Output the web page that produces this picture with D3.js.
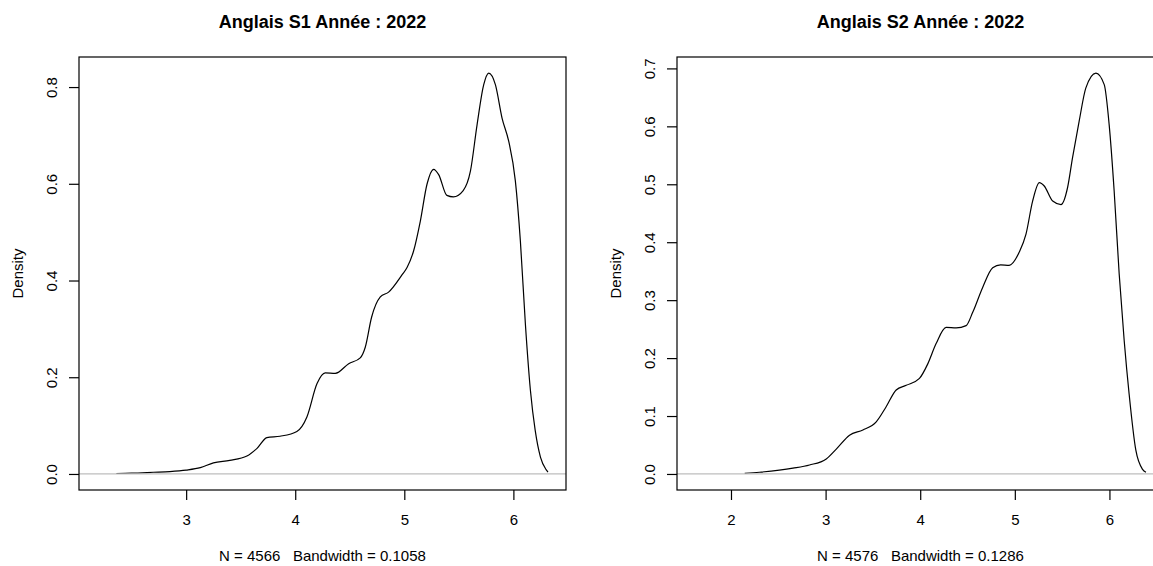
<!DOCTYPE html>
<html>
<head>
<meta charset="utf-8">
<script src="https://cdn.jsdelivr.net/npm/d3@7"></script>
<style>
  html, body { margin: 0; padding: 0; background: #fff; }
  svg { display: block; }
  text { font-family: "Liberation Sans", Arial, sans-serif; fill: #000; }
</style>
</head>
<body>
<svg id="chart" width="1153" height="566"></svg>
<script>
// ---- Data ----
const titleS1 = "Anglais S1 Année : 2022";
const titleS2 = "Anglais S2 Année : 2022";
const subS1 = "N = 4566   Bandwidth = 0.1058";
const subS2 = "N = 4576   Bandwidth = 0.1286";

const xS1 = [2.183, 2.30, 2.36, 2.50, 2.70, 2.85, 3.00, 3.13, 3.25, 3.40, 3.557, 3.65, 3.74, 3.86, 4.015, 4.107, 4.20, 4.275, 4.367, 4.49, 4.596, 4.642, 4.70, 4.78, 4.856, 4.98, 5.025, 5.085, 5.147, 5.208, 5.269, 5.315, 5.39, 5.45, 5.54, 5.606, 5.667, 5.728, 5.774, 5.835, 5.896, 5.957, 6.018, 6.064, 6.11, 6.156, 6.20, 6.248, 6.30, 6.317];
const yS1 = [0.0000, 0.0000, 0.0010, 0.0016, 0.0035, 0.005, 0.008, 0.013, 0.023, 0.028, 0.037, 0.053, 0.075, 0.078, 0.088, 0.118, 0.187, 0.209, 0.208, 0.228, 0.240, 0.262, 0.324, 0.366, 0.376, 0.412, 0.427, 0.461, 0.523, 0.599, 0.630, 0.619, 0.576, 0.573, 0.586, 0.626, 0.722, 0.805, 0.829, 0.805, 0.736, 0.688, 0.606, 0.482, 0.310, 0.173, 0.090, 0.035, 0.009, 0.004];

const xS2 = [1.62, 1.9, 2.145, 2.30, 2.655, 2.83, 3.007, 3.113, 3.253, 3.394, 3.535, 3.64, 3.746, 3.852, 3.992, 4.08, 4.168, 4.274, 4.38, 4.485, 4.555, 4.66, 4.766, 4.85, 4.94, 5.047, 5.118, 5.188, 5.259, 5.311, 5.40, 5.488, 5.557, 5.61, 5.68, 5.75, 5.857, 5.945, 5.997, 6.05, 6.103, 6.156, 6.208, 6.279, 6.35, 6.386];
const yS2 = [0.0000, 0.0000, 0.0010, 0.003, 0.010, 0.0155, 0.026, 0.043, 0.067, 0.076, 0.090, 0.116, 0.145, 0.153, 0.165, 0.190, 0.225, 0.253, 0.252, 0.256, 0.279, 0.322, 0.356, 0.361, 0.360, 0.383, 0.414, 0.471, 0.503, 0.497, 0.471, 0.465, 0.494, 0.546, 0.609, 0.666, 0.692, 0.672, 0.603, 0.488, 0.345, 0.230, 0.138, 0.041, 0.008, 0.003];

const xTicksS1 = [3, 4, 5, 6];
const yTicksS1 = [0, 0.2, 0.4, 0.6, 0.8];
const xTicksS2 = [2, 3, 4, 5, 6];
const yTicksS2 = [0, 0.1, 0.2, 0.3, 0.4, 0.5, 0.6, 0.7];

// ---- Drawing ----
const svg = d3.select("#chart");
const boxW = 487, boxH = 433, boxTop = 57;

function rExtend(ext) {
  const r = ext[1] - ext[0];
  return [ext[0] - 0.04 * r, ext[1] + 0.04 * r];
}

function panel(left, xs, ys, xTicks, yTicks, title, sub) {
  const data = xs.map((x, i) => ({ x, y: ys[i] }));
  const x = d3.scaleLinear().domain(rExtend(d3.extent(xs))).range([left, left + boxW]);
  const y = d3.scaleLinear().domain(rExtend([0, d3.max(ys)])).range([boxTop + boxH, boxTop]);
  const g = svg.append("g");

  // density curve (points at exactly zero are hidden under the zero line anyway)
  const line = d3.line().x(d => x(d.x)).y(d => y(d.y)).curve(d3.curveMonotoneX);
  g.append("path").datum(data.filter(d => d.y > 0))
    .attr("d", line)
    .attr("fill", "none")
    .attr("stroke", "#000")
    .attr("stroke-width", 1.2)
    .attr("stroke-linejoin", "round");

  // zero line
  g.append("line")
    .attr("x1", left).attr("x2", left + boxW)
    .attr("y1", y(0)).attr("y2", y(0))
    .attr("stroke", "#BEBEBE").attr("stroke-width", 1.2);

  // box
  g.append("rect")
    .attr("x", left).attr("y", boxTop)
    .attr("width", boxW).attr("height", boxH)
    .attr("fill", "none").attr("stroke", "#000").attr("stroke-width", 1.2);

  // x axis
  const xa = g.append("g")
    .attr("transform", `translate(0,${boxTop + boxH})`)
    .call(d3.axisBottom(x).tickValues(xTicks).tickSize(10).tickFormat(d3.format("d")));
  xa.select(".domain").remove();
  xa.selectAll(".tick line").attr("stroke", "#000").attr("stroke-width", 1.2);
  xa.selectAll(".tick text")
    .attr("y", 35).attr("dy", null)
    .attr("font-size", 15)
    .attr("font-family", "Liberation Sans, Arial, sans-serif")
    .attr("fill", "#000");

  // y axis
  const ya = g.append("g")
    .attr("transform", `translate(${left},0)`)
    .call(d3.axisLeft(y).tickValues(yTicks).tickSize(10).tickFormat(d3.format(".1f")));
  ya.select(".domain").remove();
  ya.selectAll(".tick line").attr("stroke", "#000").attr("stroke-width", 1.2);
  ya.selectAll(".tick text")
    .attr("x", null).attr("dy", null)
    .attr("text-anchor", "middle")
    .attr("transform", "translate(-22,0) rotate(-90)")
    .attr("font-size", 15)
    .attr("font-family", "Liberation Sans, Arial, sans-serif")
    .attr("fill", "#000");

  // y label
  g.append("text")
    .attr("transform", `translate(${left - 56},${boxTop + boxH / 2}) rotate(-90)`)
    .attr("text-anchor", "middle")
    .attr("font-size", 15)
    .text("Density");

  // title
  g.append("text")
    .attr("x", left + boxW / 2).attr("y", 28)
    .attr("text-anchor", "middle")
    .attr("font-size", 18)
    .attr("font-weight", "bold")
    .text(title);

  // subtitle
  g.append("text")
    .attr("x", left + boxW / 2).attr("y", 561)
    .attr("text-anchor", "middle")
    .attr("font-size", 15)
    .attr("xml:space", "preserve")
    .style("white-space", "pre")
    .text(sub);
}

panel(79, xS1, yS1, xTicksS1, yTicksS1, titleS1, subS1);
panel(677, xS2, yS2, xTicksS2, yTicksS2, titleS2, subS2);
</script>
</body>
</html>
